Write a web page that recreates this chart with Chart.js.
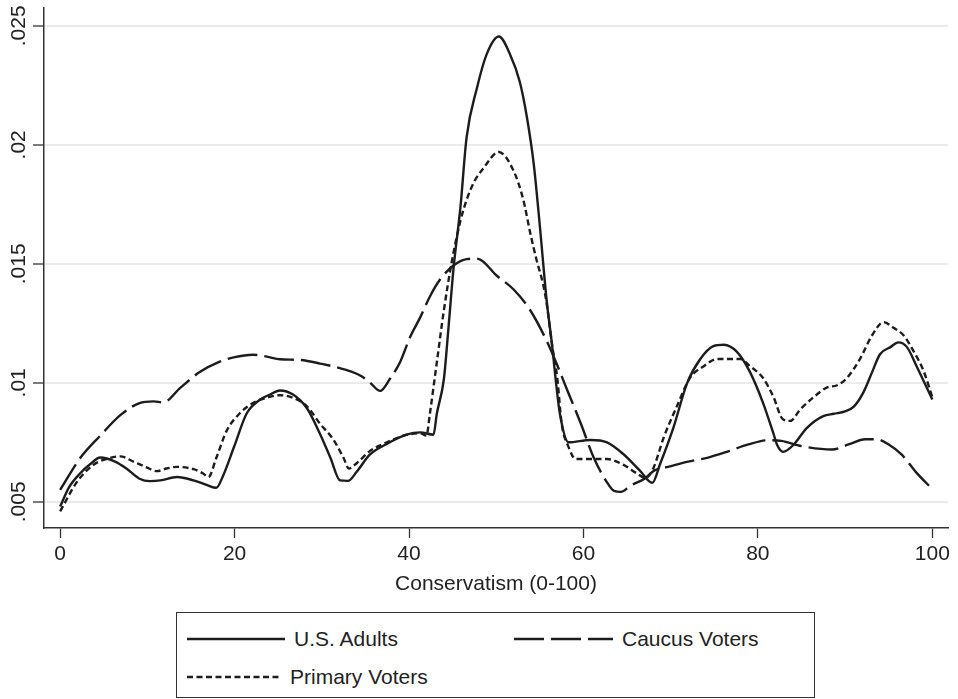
<!DOCTYPE html>
<html>
<head>
<meta charset="utf-8">
<title>Conservatism densities</title>
<script src="https://cdn.jsdelivr.net/npm/chart.js@4.4.1/dist/chart.umd.min.js"></script>
<style>
  html, body { margin: 0; padding: 0; background: #fff; }
  #wrap { position: relative; width: 958px; height: 699px; overflow: hidden; }
  #chart { position: absolute; left: 0; top: 0; }
  #legend {
    position: absolute; left: 176px; top: 612px; width: 639px; height: 86px;
    box-sizing: border-box; border: 1.3px solid #333;
    font-family: "Liberation Sans", Arial, sans-serif; font-size: 21px; color: #222;
  }
  .item { position: absolute; display: flex; align-items: center; height: 26px; white-space: nowrap; }
  .item svg { margin-right: 9px; }
</style>
</head>
<body>
<div id="wrap">
  <canvas id="chart" width="958" height="600"></canvas>
  <div id="legend"></div>
</div>
<script>
// values: x = conservatism score, y = density
const adultsX = [0, 1, 2.3, 3.5, 4.6, 6.3, 7.6, 9.1, 10.3, 11.5, 13.4, 15.3, 16.8, 17.9, 18.7, 19.9, 21.4, 22.9, 24.0, 25.2,
  26.7, 28.3, 29.8, 31.0, 32.1, 33.0, 34.0, 35.5, 37.4, 39.7, 41.3, 42.8, 43.2, 44.0, 44.5, 45.1, 45.9, 46.6, 47.8, 48.9,
  50.3, 51.6, 52.7, 53.5, 54.3, 55.0, 55.8, 56.4, 56.8, 57.3, 58.3, 60.8, 62.7, 64.6, 66.5, 67.9, 68.8, 70.3, 71.9, 73.4,
  74.9, 76.1, 77.6, 79.1, 80.6, 81.8, 82.2, 82.9, 84.1, 85.6, 87.5, 88.7, 90.0, 91.0, 92.1, 93.1, 94.0, 95.2, 96.1, 97.1,
  98.2, 100];
const adultsY = [0.0048, 0.0056, 0.0062, 0.0066, 0.00686, 0.00669, 0.0064, 0.00597, 0.00587, 0.0059, 0.00604, 0.0059, 0.00571, 0.00559, 0.00611, 0.00727, 0.00872, 0.00929, 0.0095, 0.00968,
  0.00951, 0.00893, 0.00785, 0.00684, 0.0059, 0.00588, 0.00626, 0.00698, 0.00742, 0.00782, 0.00792, 0.00782, 0.00872, 0.01016, 0.01219, 0.01479, 0.01739, 0.0203, 0.0224, 0.0238,
  0.02455, 0.02379, 0.02265, 0.0212, 0.0192, 0.0166, 0.0134, 0.0116, 0.0102, 0.0087, 0.0075, 0.0076, 0.0075, 0.007, 0.0063, 0.0058, 0.0066, 0.0081, 0.01, 0.011,
  0.01154, 0.0116, 0.0113, 0.01045, 0.00915, 0.00785, 0.0074, 0.0071, 0.0074, 0.0081, 0.0086, 0.0087, 0.0088, 0.009, 0.0096, 0.01045, 0.0112, 0.0115, 0.0117, 0.0115,
  0.0107, 0.0093];

const primaryX = [0, 1.9, 3.8, 5.7, 6.9, 8.4, 9.9, 11.1, 12.2, 13.4, 15.3, 16.4, 17.0, 17.9, 19.1, 20.6, 22.1, 23.7, 25.2, 26.7,
  28.3, 29.8, 31.3, 32.5, 33.1, 34.0, 35.5, 37.4, 39.7, 41.3, 42.0, 42.4, 43.2, 44.0, 44.9, 45.9, 46.6, 47.4, 48.5, 50.3,
  52.0, 53.1, 53.9, 54.6, 55.4, 55.8, 56.4, 57.0, 57.5, 58.3, 59.1, 60.8, 62.7, 64.6, 66.1, 67.1, 68.0, 69.2, 70.7, 72.2,
  73.8, 75.3, 76.8, 78.0, 79.1, 80.6, 81.8, 82.8, 83.7, 84.9, 86.4, 87.9, 89.1, 90.2, 91.7, 93.1, 94.4, 95.6, 96.7, 97.9,
  99.0, 100];
const primaryY = [0.0046, 0.00582, 0.00655, 0.00684, 0.00691, 0.00669, 0.00645, 0.00629, 0.0064, 0.00647, 0.00637, 0.00619, 0.00604, 0.00684, 0.00799, 0.00872, 0.00915, 0.00937, 0.00948, 0.00937,
  0.00901, 0.00828, 0.00763, 0.00684, 0.0064, 0.00662, 0.00713, 0.00749, 0.00781, 0.00788, 0.00778, 0.00872, 0.01089, 0.01305, 0.01508, 0.01681, 0.01768, 0.0184, 0.019, 0.0197,
  0.0189, 0.0177, 0.0163, 0.0152, 0.0141, 0.0133, 0.0116, 0.0102, 0.0083, 0.0073, 0.0068, 0.0068, 0.0068, 0.00655, 0.0062, 0.006, 0.0064, 0.0077, 0.009, 0.0102,
  0.0107, 0.011, 0.011, 0.011, 0.0107, 0.0102, 0.0094, 0.0085, 0.0084, 0.0089, 0.0094, 0.0098, 0.0099, 0.0102, 0.011, 0.012, 0.01255, 0.0123, 0.012, 0.0113,
  0.0105, 0.0094];

const caucusX = [0, 2.3, 4.6, 6.9, 9.1, 10.7, 11.8, 13.8, 16.0, 18.3, 19.9, 22.1, 23.7, 25.2, 27.5, 29.8, 32.9, 34.4, 35.5, 36.7,
  37.8, 39.0, 40.1, 41.3, 42.4, 43.6, 45.1, 46.6, 47.8, 50.1, 52.0, 53.9, 55.8, 57.0, 58.1, 59.7, 61.2, 62.7, 63.5, 64.3,
  65.4, 67.0, 68.2, 69.7, 72.0, 74.3, 76.6, 78.9, 81.2, 82.7, 85.0, 88.5, 90.4, 92.3, 93.5, 95.0, 96.5, 98.1, 100];
const caucusY = [0.0055, 0.00684, 0.00778, 0.00864, 0.00915, 0.00922, 0.00918, 0.0098, 0.01045, 0.01089, 0.01107, 0.01118, 0.0111, 0.01099, 0.01096, 0.01081, 0.01053, 0.01031, 0.01002, 0.00966,
  0.01016, 0.01089, 0.0119, 0.01276, 0.01363, 0.01436, 0.01493, 0.0152, 0.01522, 0.01449, 0.01392, 0.01305, 0.01175, 0.01074, 0.00973, 0.00829, 0.00684, 0.00582, 0.00546, 0.00542,
  0.00568, 0.00597, 0.00633, 0.00647, 0.00669, 0.00686, 0.00712, 0.00741, 0.00759, 0.00756, 0.00734, 0.0072, 0.00741, 0.00763, 0.00763, 0.00741, 0.00698, 0.00626, 0.00553];

const xTicks = [0, 20, 40, 60, 80, 100];
const yTicks = [0.005, 0.01, 0.015, 0.02, 0.025];
const yTickLabels = ['.005', '.01', '.015', '.02', '.025'];

const FONT = '"Liberation Sans", Arial, sans-serif';
const INK = '#1c1c1c';

function pts(xs, ys) {
    return xs.map((x, i) => ({ x: x, y: ys[i] }));
}

const series = [
    { label: 'U.S. Adults', data: pts(adultsX, adultsY), dash: [] },
    { label: 'Caucus Voters', data: pts(caucusX, caucusY), dash: [30, 7] },
    { label: 'Primary Voters', data: pts(primaryX, primaryY), dash: [6, 3.5] }
];

// y tick labels are rotated and centred on their ticks (Stata style)
const rotatedYLabels = {
    id: 'rotatedYLabels',
    afterDraw(chart) {
        const s = chart.scales.y;
        const ctx = chart.ctx;
        ctx.save();
        ctx.font = '21px ' + FONT;
        ctx.fillStyle = '#222';
        ctx.textAlign = 'center';
        ctx.textBaseline = 'alphabetic';
        s.ticks.forEach(t => {
            ctx.save();
            ctx.translate(s.right - 19, s.getPixelForValue(t.value));
            ctx.rotate(-Math.PI / 2);
            ctx.fillText(t.label, 0, 0);
            ctx.restore();
        });
        ctx.restore();
    }
};

new Chart(document.getElementById('chart'), {
    type: 'line',
    data: {
        datasets: series.map(s => ({
            label: s.label,
            data: s.data,
            borderColor: INK,
            borderWidth: 2.4,
            borderDash: s.dash,
            pointRadius: 0,
            fill: false,
            cubicInterpolationMode: 'monotone'
        }))
    },
    options: {
        responsive: false,
        animation: false,
        devicePixelRatio: 1,
        layout: { padding: { top: 8, right: 10, left: 0, bottom: 0 } },
        plugins: { legend: { display: false }, tooltip: { enabled: false } },
        scales: {
            x: {
                type: 'linear',
                min: -1.85,
                max: 101.8,
                afterBuildTicks: s => { s.ticks = xTicks.map(v => ({ value: v })); },
                afterFit: s => { s.height = 72; s.paddingLeft = 0; s.paddingRight = 0; },
                grid: { drawOnChartArea: false, tickLength: 10, tickColor: '#333', tickWidth: 1.3 },
                border: { color: '#333', width: 1.5 },
                ticks: { color: '#222', font: { family: FONT, size: 21 }, padding: 4, maxRotation: 0, autoSkip: false },
                title: {
                    display: true,
                    text: 'Conservatism (0-100)',
                    color: '#222',
                    font: { family: FONT, size: 21 },
                    padding: { top: 0, bottom: 3 }
                }
            },
            y: {
                type: 'linear',
                min: 0.0039,
                max: 0.02575,
                afterBuildTicks: s => { s.ticks = yTicks.map(v => ({ value: v })); },
                afterFit: s => { s.width = 44; s.paddingTop = 0; s.paddingBottom = 0; },
                grid: { color: '#ebebeb', lineWidth: 2, tickLength: 11, tickColor: '#333', tickWidth: 1.3 },
                border: { color: '#333', width: 1.5 },
                ticks: {
                    display: false,
                    callback: v => yTickLabels[yTicks.indexOf(v)]
                }
            }
        }
    },
    plugins: [rotatedYLabels]
});

// legend box drawn as html so the line samples can carry the dash patterns
const legendPos = [
    { left: 10, top: 13 },
    { left: 337, top: 13 },
    { left: 10, top: 51 }
];
const legendWidths = [98, 99, 94];
document.getElementById('legend').innerHTML = series.map((s, i) => `
    <div class="item" style="left:${legendPos[i].left}px;top:${legendPos[i].top}px;">
      <svg width="${legendWidths[i]}" height="6"><line x1="0" y1="3" x2="${legendWidths[i]}" y2="3" stroke="${INK}" stroke-width="2.4" stroke-dasharray="${s.dash.join(' ') || 'none'}"/></svg>
      <span>${s.label}</span>
    </div>`).join('');
</script>
</body>
</html>
